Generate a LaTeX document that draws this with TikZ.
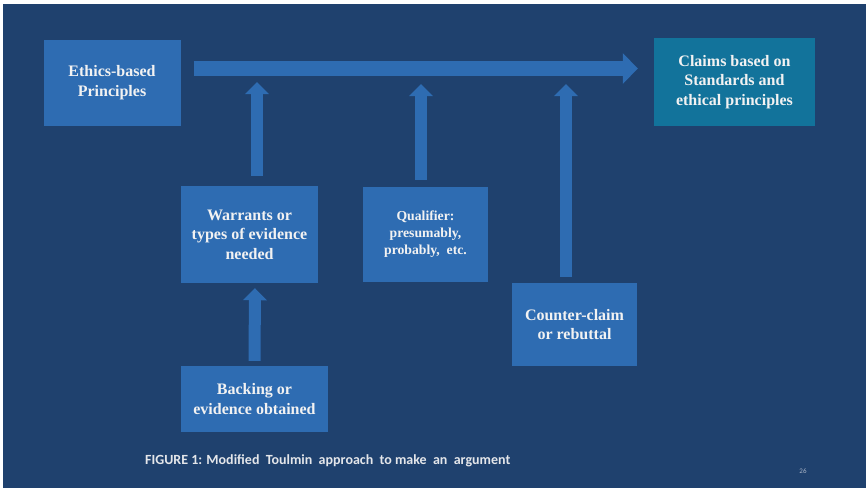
\documentclass[tikz,border=0pt]{standalone}
\usepackage{fontspec}
\setmainfont{Liberation Serif}
\newfontfamily\capfont{Carlito}
\usetikzlibrary{arrows.meta,calc}

\definecolor{slidebg}{HTML}{1F416E}
\definecolor{boxblue}{HTML}{2E6CB2}
\definecolor{claimteal}{HTML}{12739B}
\definecolor{boxtext}{HTML}{F2F2F2}
\definecolor{captext}{HTML}{E4E6EA}
\definecolor{pagenum}{HTML}{A9B4C6}

\tikzset{
  stepbox/.style={fill=boxblue, draw=none, inner sep=0pt, align=center,
    text=boxtext, font=\bfseries\fontsize{16}{19.5}\selectfont},
  claimbox/.style={stepbox, fill=claimteal},
  mainarrow/.style={draw=boxblue, line width=15pt,
    -{Triangle[width=30pt,length=15pt]}},
  uparrow/.style={draw=boxblue, line width=12pt,
    -{Triangle[width=23pt,length=12pt]}},
}

\begin{document}
\begin{tikzpicture}[x=1pt,y=-1pt]
  % page and slide background
  \fill[white] (0,0) rectangle (868,491);
  \fill[slidebg] (3,4) rectangle (866,488);
  \useasboundingbox (0,0) rectangle (868,491);

  % boxes
  \node[stepbox, minimum width=137pt, minimum height=86pt] (ethics) at (112,82.5)
    {Ethics-based\\Principles};
  \node[claimbox, minimum width=161pt, minimum height=88pt] (claims) at (734.5,82)
    {Claims based on\\Standards and\\ethical principles};
  \node[stepbox, minimum width=137pt, minimum height=97pt] (warrants) at (249.5,234.5)
    {Warrants or\\types of evidence\\needed};
  \node[stepbox, minimum width=125pt, minimum height=95pt,
        font=\bfseries\fontsize{13.7}{17}\selectfont] (qualifier) at (425.5,234.5)
    {Qualifier:\\presumably,\\probably,~ etc.};
  \node[stepbox, minimum width=125pt, minimum height=83pt] (counter) at (574.5,324.5)
    {Counter-claim\\or rebuttal};
  \node[stepbox, minimum width=147pt, minimum height=66pt] (backing) at (254.5,399)
    {Backing or\\evidence obtained};

  % main argument arrow from principles to claims
  \draw[mainarrow] ($(ethics.east)+(13,-14)$) -- ($(claims.west)+(-16,-13.5)$);

  % tips of the supporting arrows under the main arrow
  \coordinate (t1) at (257,82);
  \coordinate (t2) at (421,84);
  \coordinate (t3) at (566,84);

  \draw[uparrow] ($(warrants.north -| t1)+(0,-10)$) -- (t1);
  \draw[uparrow] ($(qualifier.north -| t2)+(0,-7)$) -- (t2);
  \draw[uparrow] ($(counter.north -| t3)+(0,-6)$) -- (t3);
  \draw[uparrow] ($(backing.north)+(0,-5)$) -- ($(warrants.south)+(5.5,5)$);

  % caption and slide number
  \node[anchor=west, inner sep=0pt, text=captext,
        font=\capfont\bfseries\fontsize{14}{16}\selectfont] (caption) at (145,461)
    {FIGURE 1: Modified~ Toulmin~ approach~ to make~ an~ argument};
  \node[inner sep=0pt, text=pagenum, font=\capfont\fontsize{7}{8}\selectfont]
    (slideno) at (803,471) {26};
\end{tikzpicture}
\end{document}
